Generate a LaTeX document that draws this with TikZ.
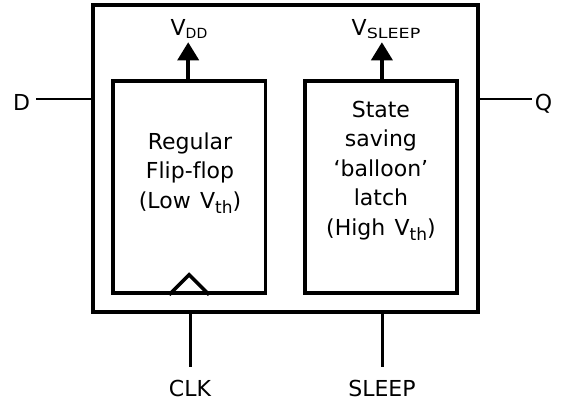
\documentclass[tikz,border=0pt]{standalone}
\usepackage{fontspec}
\setmainfont{DejaVu Sans}[Ligatures=NoCommon]
\usepackage{graphicx}
\usetikzlibrary{arrows.meta}
\newcommand{\lowsub}[3]{\raisebox{-#1}{\fontsize{#2}{#2}\selectfont #3}}
\begin{document}
\begin{tikzpicture}[x=1pt,y=-1pt,
  every node/.style={font=\fontsize{22}{29.5}\selectfont, inner sep=0pt},
  box/.style={draw, line width=3.5pt},
  outerbox/.style={draw, line width=4pt},
  sig/.style={line width=3pt},
  port/.style={line width=2.5pt},
  pwr/.style={line width=3.5pt, -{Triangle[length=18pt,width=21pt]}},
  label/.style={align=center, anchor=base}]
\useasboundingbox (0,0) rectangle (561,404);
% boxes
\node[outerbox, minimum width=384.7pt, minimum height=306.4pt] (outer) at (285.7,158.5) {};
\node[box, minimum width=152.3pt, minimum height=212pt] (ff) at (189.2,187) {};
\node[box, minimum width=152.3pt, minimum height=212pt] (bl) at (380.9,187) {};
% box labels (base = last line)
\node[label] (fftext) at (190,208) {Regular\\Flip-flop\\(Low\hspace{0.42em}V\lowsub{5pt}{17}{th})};
\node[label] (bltext) at (380.9,235) {State\\saving\\`balloon'\\latch\\(High\hspace{0.42em}V\lowsub{5pt}{17}{th})};
% clock triangle
\draw[box] (ff.south) ++(-20,0) -- ++(20,-20) -- ++(20,20);
% supply arrows
\node[anchor=base] (vdd) at (189,36) {V\lowsub{2pt}{14}{DD}};
\node[anchor=base] (vsleep) at (386,36) {V\lowsub{2pt}{14}{\scalebox{1.25}[1]{SLEEP}}};
\path (ff.north) ++(-1,-37) coordinate (vddtip);
\path (bl.north) ++(1,-37) coordinate (vsleeptip);
\draw[pwr] (ff.north -| vddtip) -- (vddtip);
\draw[pwr] (bl.north -| vsleeptip) -- (vsleeptip);
% D and Q
\node[anchor=base, inner xsep=6pt] (D) at (21.5,110) {D};
\node[anchor=base, inner xsep=3pt] (Q) at (543.5,110) {Q};
\coordinate (din) at (outer.west |- 0,99);
\coordinate (qout) at (outer.east |- 0,99);
\draw[port] (din) -- (din -| D.east);
\draw[port] (qout) -- (qout -| Q.west);
% CLK and SLEEP
\node[anchor=base, inner ysep=12pt] (clk) at (190,396) {CLK};
\node[anchor=base, inner ysep=12pt] (sleep) at (382,396) {SLEEP};
\draw[sig] (outer.south -| clk.north) -- (clk.north);
\draw[sig] (outer.south -| sleep.north) -- (sleep.north);
\end{tikzpicture}
\end{document}
